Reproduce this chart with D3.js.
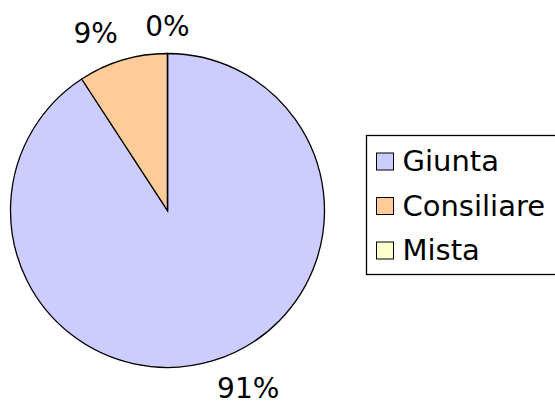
<!DOCTYPE html>
<html>
<head>
<meta charset="utf-8">
<script src="https://cdn.jsdelivr.net/npm/d3@7"></script>
<style>
  body { margin: 0; background: #fff; }
  text { font-family: "DejaVu Sans", sans-serif; }
</style>
</head>
<body>
<script>
// dati del grafico
var categories = ['Giunta', 'Consiliare', 'Mista'];
var values = [90.8, 9.2, 0];
var labels = ['91%', '9%', '0%'];
var colors = ['#ccccff', '#ffcc99', '#ffffcc'];

var width = 555, height = 406;
var cx = 167.5, cy = 210.5, radius = 157;
var fontSize = 28;

var svg = d3.select('body').append('svg')
    .attr('width', width)
    .attr('height', height);

var pie = d3.pie().sort(null).value(function (d) { return d; });
var arcs = pie(values);

var arc = d3.arc().innerRadius(0).outerRadius(radius);
var labelR = 174;

var g = svg.append('g').attr('transform', 'translate(' + cx + ',' + cy + ')');

g.selectAll('path')
    .data(arcs)
    .enter()
    .append('path')
    .attr('d', arc)
    .attr('fill', function (d, i) { return colors[i]; })
    .attr('stroke', '#000')
    .attr('stroke-width', 1.3);

// etichette percentuali: l'angolo del box più vicino al centro sta sul raggio labelR
g.selectAll('text.lbl')
    .data(arcs)
    .enter()
    .append('text')
    .attr('class', 'lbl')
    .attr('text-anchor', 'middle')
    .attr('dy', '0.35em')
    .attr('font-size', fontSize)
    .text(function (d, i) { return labels[i]; })
    .each(function (d) {
        var a = (d.startAngle + d.endAngle) / 2;
        var sx = Math.sin(a), sy = -Math.cos(a);
        var bb = this.getBBox();
        var w = bb.width, h = fontSize * 0.75;
        var px = sx * labelR, py = sy * labelR;
        var ox = Math.abs(sx) < 0.05 ? 0 : Math.sign(sx) * w / 2;
        var oy = Math.abs(sy) < 0.05 ? 0 : Math.sign(sy) * h / 2;
        d3.select(this).attr('transform', 'translate(' + (px + ox) + ',' + (py + oy) + ')');
    });

// legenda
var legend = svg.append('g').attr('transform', 'translate(366.5,135.5)');
legend.append('rect')
    .attr('width', 200)
    .attr('height', 139)
    .attr('fill', '#fff')
    .attr('stroke', '#000')
    .attr('stroke-width', 1.3);

var item = legend.selectAll('g.item')
    .data(categories)
    .enter()
    .append('g')
    .attr('class', 'item')
    .attr('transform', function (d, i) { return 'translate(0,' + (25.5 + i * 44.5) + ')'; });

item.append('rect')
    .attr('x', 10)
    .attr('y', -8)
    .attr('width', 17)
    .attr('height', 17)
    .attr('fill', function (d, i) { return colors[i]; })
    .attr('stroke', '#000')
    .attr('stroke-width', 1);

item.append('text')
    .attr('x', 36)
    .attr('dy', '0.36em')
    .attr('font-size', 29)
    .text(function (d) { return d; });
</script>
</body>
</html>
